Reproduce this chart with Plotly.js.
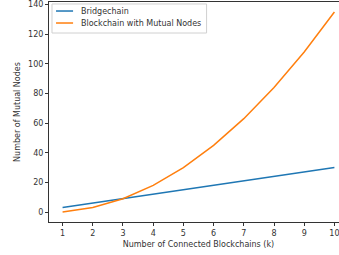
<!DOCTYPE html>
<html><head><meta charset="utf-8">
<script src="https://cdn.plot.ly/plotly-3.0.1.min.js"></script>
<style>html,body{margin:0;padding:0;overflow:hidden;background:#fff}#c{width:348px;height:255px}</style>
</head><body><div id="c"></div>
<script>
const k = [1,2,3,4,5,6,7,8,9,10];
const bridgechain = [3,6,9,12,15,18,21,24,27,30];
const mutualNodes = [0,3,9,18,30,45,63,84,108,135];
const seriesNames = ["Bridgechain","Blockchain with Mutual Nodes"];
const colors = ["#1f77b4","#ff7f0e"];
const xTitle = "Number of Connected Blockchains (k)";
const yTitle = "Number of Mutual Nodes";

const font = {family:"DejaVu Sans", size:8, color:"#333"};
// manual matplotlib-style legend (paper coordinates)
const legY = [0.959, 0.9045];
const shapes = [{type:"rect", xref:"paper", yref:"paper", x0:0.010, x1:0.527, y0:0.859, y1:0.991,
  line:{color:"#d0d0d0", width:1}, fillcolor:"rgba(255,255,255,0.8)", layer:"above"}];
const annotations = [];
seriesNames.forEach((n,i)=>{
  shapes.push({type:"line", xref:"paper", yref:"paper", x0:0.0235, x1:0.0805, y0:legY[i], y1:legY[i],
    line:{color:colors[i], width:1.5}, layer:"above"});
  annotations.push({xref:"paper", yref:"paper", x:0.1007, y:legY[i], xanchor:"left", yanchor:"middle",
    text:n, showarrow:false, font:font});
});

Plotly.newPlot("c", [
  {x:k, y:bridgechain, name:seriesNames[0], mode:"lines", line:{color:colors[0], width:1.5}},
  {x:k, y:mutualNodes, name:seriesNames[1], mode:"lines", line:{color:colors[1], width:1.5}}
], {
  width:348, height:255,
  margin:{l:49, r:0, t:2, b:33},
  paper_bgcolor:"#fff", plot_bgcolor:"#fff",
  font:font,
  showlegend:false,
  shapes:shapes, annotations:annotations,
  xaxis:{range:[0.55,10.45], tickvals:k, ticks:"outside", ticklen:3, tickcolor:"#333", showline:true, linecolor:"#333", linewidth:1, mirror:true, showgrid:false, zeroline:false, tickfont:font,
    title:{text:xTitle, font:font, standoff:4}},
  yaxis:{range:[-6.75,141.75], tickvals:[0,20,40,60,80,100,120,140], ticks:"outside", ticklen:3, tickcolor:"#333", showline:true, linecolor:"#333", linewidth:1, mirror:true, showgrid:false, zeroline:false, tickfont:font,
    title:{text:yTitle, font:font, standoff:6}}
}, {displayModeBar:false, staticPlot:true});
</script></body></html>
